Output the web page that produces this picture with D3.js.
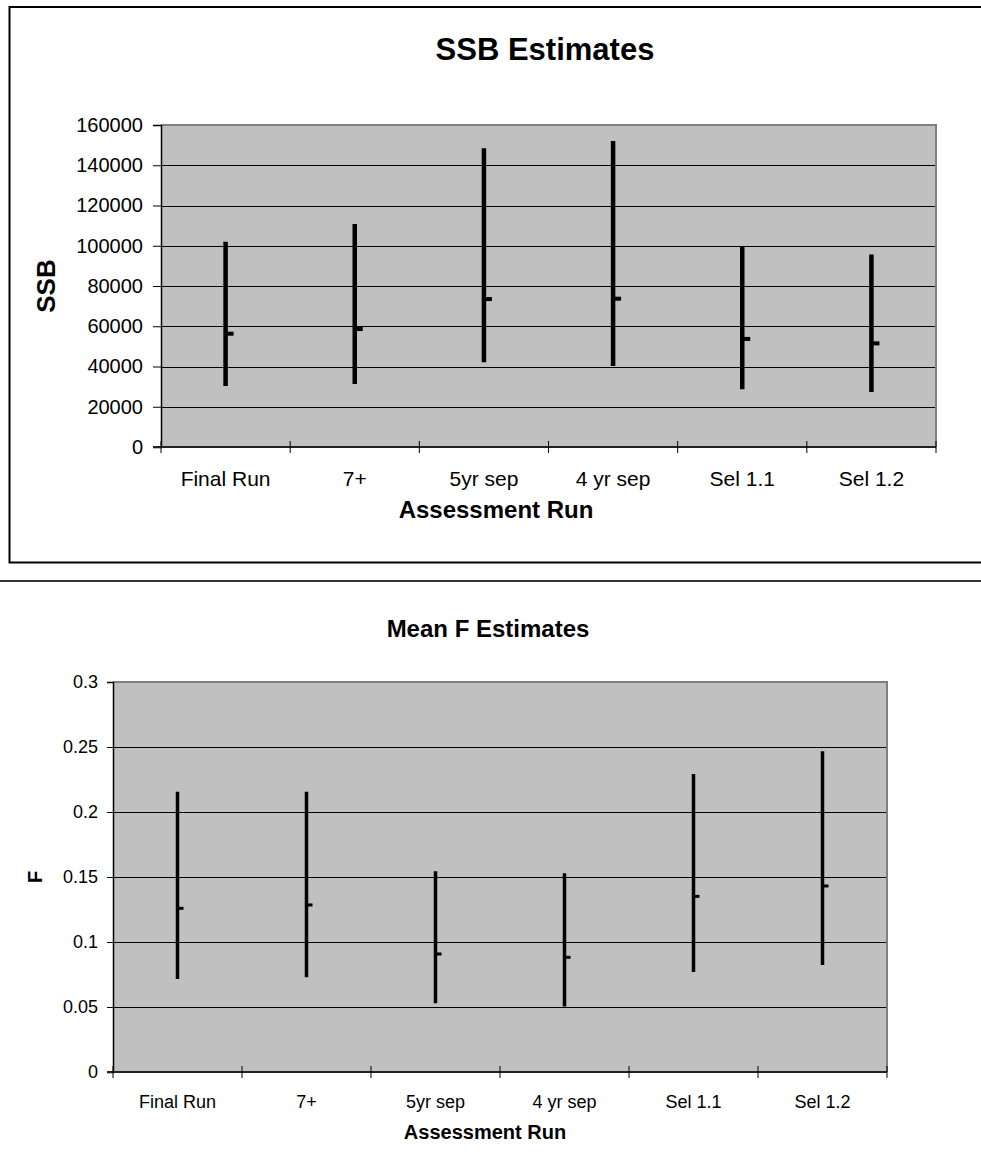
<!DOCTYPE html>
<html><head><meta charset="utf-8">
<script src="https://cdn.jsdelivr.net/npm/d3@7"></script>
<style>
html,body{margin:0;padding:0;background:#fff;}
svg{display:block;font-family:"Liberation Sans",Arial,sans-serif;}
</style></head>
<body>
<svg id="c" width="981" height="1153"></svg>
<script>
const categories = ["Final Run","7+","5yr sep","4 yr sep","Sel 1.1","Sel 1.2"];
const ssbHigh = [102000,110800,148400,152000,99500,95600];
const ssbLow  = [30300,31300,42100,40200,28700,27300];
const ssbMean = [56300,58600,73500,73700,53700,51500];
const ssbTicks = [0,20000,40000,60000,80000,100000,120000,140000,160000];
const ssbTickLabels = ["0","20000","40000","60000","80000","100000","120000","140000","160000"];

const fHigh = [0.2155,0.2155,0.1545,0.1528,0.2292,0.2468];
const fLow  = [0.0715,0.0728,0.0528,0.0503,0.0769,0.0823];
const fMean = [0.1259,0.1285,0.0908,0.0882,0.1351,0.1431];
const fTicks = [0,0.05,0.1,0.15,0.2,0.25,0.3];
const fTickLabels = ["0","0.05","0.1","0.15","0.2","0.25","0.3"];

const svg = d3.select("#c");

// frames
svg.append("rect").attr("x",9.5).attr("y",7).attr("width",1000).attr("height",555.5)
  .attr("fill","none").attr("stroke","#000").attr("stroke-width",2);
svg.append("rect").attr("x",-10).attr("y",581).attr("width",1010).attr("height",600)
  .attr("fill","none").attr("stroke","#333").attr("stroke-width",2);

function drawChart(o){
  const g = svg.append("g");
  const x = d3.scaleBand().domain(categories).range([o.left,o.right]).padding(0);
  const y = d3.scaleLinear().domain([o.ticks[0],o.ticks[o.ticks.length-1]]).range([o.bottom,o.top]);
  g.append("rect").attr("x",o.left).attr("y",o.top).attr("width",o.right-o.left).attr("height",o.bottom-o.top)
    .attr("fill","#c0c0c0");
  g.selectAll(".grid").data(o.ticks.slice(1,-1)).join("line")
    .attr("x1",o.left).attr("x2",o.right)
    .attr("y1",d=>Math.round(y(d))+0.5).attr("y2",d=>Math.round(y(d))+0.5)
    .attr("stroke","#000").attr("stroke-width",1);
  g.append("path").attr("d",`M${o.left},${o.top}H${o.right}V${o.bottom}`)
    .attr("fill","none").attr("stroke","#808080").attr("stroke-width",2);
  const ya = d3.axisLeft(y).tickValues(o.ticks).tickFormat((d,i)=>o.tickLabels[i]).tickSizeOuter(0).tickSize(o.ytick).tickPadding(o.ypad);
  const yg = g.append("g").attr("transform",`translate(${o.left},0)`).call(ya);
  yg.select(".domain").attr("stroke","#000").attr("stroke-width",1.5);
  yg.selectAll(".tick line").attr("stroke","#000");
  yg.selectAll("text").attr("font-size",o.ytickFont).attr("fill","#000").attr("font-family","Liberation Sans, Arial, sans-serif");
  g.append("line").attr("x1",o.left-o.ytick).attr("x2",o.right).attr("y1",o.bottom).attr("y2",o.bottom)
    .attr("stroke","#222").attr("stroke-width",2);
  const bounds = categories.map(c=>x(c)).concat([x.range()[1]]);
  g.selectAll(".xt").data(bounds).join("line")
    .attr("x1",d=>d).attr("x2",d=>d).attr("y1",o.bottom-6).attr("y2",o.bottom+6)
    .attr("stroke","#000").attr("stroke-width",1);
  g.selectAll(".xl").data(categories).join("text")
    .attr("x",d=>x(d)+x.bandwidth()/2).attr("y",o.xlabY)
    .attr("text-anchor","middle").attr("font-size",o.xtickFont).text(d=>d);
  g.selectAll(".hl").data(categories).join("line")
    .attr("x1",d=>x(d)+x.bandwidth()/2).attr("x2",d=>x(d)+x.bandwidth()/2)
    .attr("y1",(d,i)=>y(o.high[i])).attr("y2",(d,i)=>y(o.low[i]))
    .attr("stroke","#000").attr("stroke-width",o.lw);
  g.selectAll(".mt").data(categories).join("line")
    .attr("x1",d=>x(d)+x.bandwidth()/2).attr("x2",d=>x(d)+x.bandwidth()/2+o.mlen)
    .attr("y1",(d,i)=>y(o.mean[i])).attr("y2",(d,i)=>y(o.mean[i]))
    .attr("stroke","#000").attr("stroke-width",o.mw);
  g.append("text").attr("x",o.titleX).attr("y",o.titleY).attr("text-anchor","middle")
    .attr("font-size",o.titleFont).attr("font-weight","bold").text(o.title);
  g.append("text").attr("x",o.xtitleX).attr("y",o.xtitleY).attr("text-anchor","middle")
    .attr("font-size",o.axisFont).attr("font-weight","bold").text("Assessment Run");
  g.append("text").attr("transform",`translate(${o.ytitleX},${(o.top+o.bottom)/2}) rotate(-90)`)
    .attr("text-anchor","middle").attr("font-size",o.yAxisFont).attr("font-weight","bold").text(o.ytitle);
}

drawChart({left:161,right:936,top:125,bottom:447,ticks:ssbTicks,tickLabels:ssbTickLabels,
  high:ssbHigh,low:ssbLow,mean:ssbMean,ytick:8,ypad:10,ytickFont:20,xtickFont:21,xlabY:486,lw:4.5,mw:4,mlen:8,
  title:"SSB Estimates",titleX:545,titleY:60,titleFont:31,xtitleX:496,xtitleY:518,axisFont:24,
  ytitle:"SSB",ytitleX:55,yAxisFont:26});

drawChart({left:113,right:887,top:682,bottom:1072,ticks:fTicks,tickLabels:fTickLabels,
  high:fHigh,low:fLow,mean:fMean,ytick:6,ypad:9,ytickFont:18,xtickFont:18,xlabY:1108,lw:3.5,mw:3,mlen:6,
  title:"Mean F Estimates",titleX:488,titleY:637,titleFont:24,xtitleX:485,xtitleY:1139,axisFont:20,
  ytitle:"F",ytitleX:42,yAxisFont:20});
</script>
</body></html>
